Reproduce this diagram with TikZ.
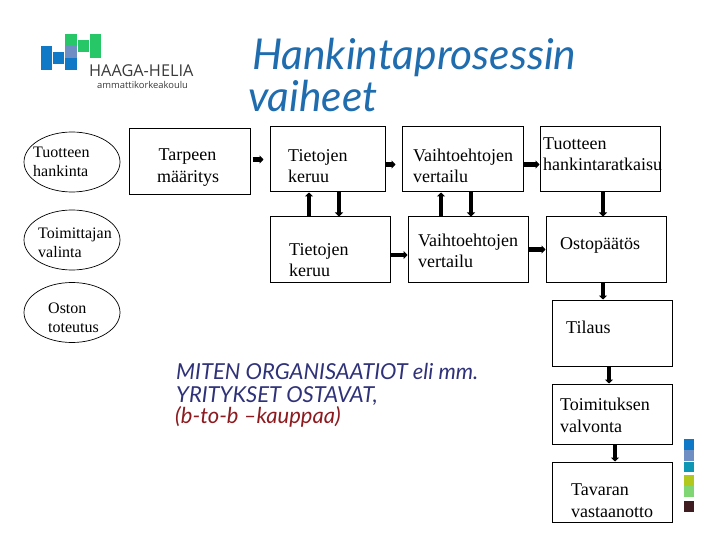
\documentclass[tikz,border=0pt]{standalone}
\usepackage{fontspec}
\setmainfont{Liberation Serif}
\newfontfamily\handfont{Lato}
\newfontfamily\logofont{Open Sans}
\usetikzlibrary{arrows.meta, shapes.geometric}
\definecolor{titleBlue}{HTML}{1F6CAE}
\definecolor{noteBlue}{HTML}{2F3278}
\definecolor{noteRed}{HTML}{8C1A1F}
\definecolor{logoBlue}{HTML}{0F79C8}
\definecolor{logoLilac}{HTML}{6F8FC4}
\definecolor{logoGreen}{HTML}{27C768}
\definecolor{logoText}{HTML}{3A3A3A}
\definecolor{barTeal}{HTML}{0E97B4}
\definecolor{barOlive}{HTML}{B3C81C}
\definecolor{barGreen}{HTML}{7FD673}
\definecolor{barDark}{HTML}{3E1C20}
\tikzset{
  stepbox/.style={draw=black, line width=1pt, fill=white, inner sep=0pt},
  stepoval/.style={draw=black, line width=0.7pt, fill=white, ellipse, inner sep=0pt,
    minimum width=96pt},
  boxtext/.style={anchor=west, align=left, inner sep=0pt, font=\fontsize{18}{21.5}\selectfont},
  ovaltext/.style={anchor=west, align=left, inner sep=0pt, font=\fontsize{16}{19}\selectfont},
  flow/.style={line width=4.5pt, -{Triangle[width=8pt,length=4pt]}},
  titletext/.style={anchor=base west, inner sep=0pt, text=titleBlue,
    font=\handfont\itshape\fontsize{42.5}{42.5}\selectfont},
  notetext/.style={anchor=base west, inner sep=0pt,
    font=\handfont\itshape\fontsize{22}{22}\selectfont},
}
\newcommand{\stepcell}[8]{%
  \node[stepbox, minimum width=#4pt, minimum height=#5pt] (#1) at (#2,#3) {};%
  \node[boxtext] (#1-t) at (#6,#7) {#8};%
}
\newcommand{\stepell}[6]{%
  \node[stepoval, minimum height=60pt] (#1) at (72,#2) {};%
  \node[ovaltext] (#1-t) at (#3,#4) {#5\\#6};%
}
\begin{document}
\begin{tikzpicture}[x=1pt, y=-1pt]
\useasboundingbox (0,0) rectangle (720,540);

% --- LOGO ---
\foreach \lx/\ly/\lcol in {
  62/78/logoBlue, 62/115/logoBlue, 98/96/logoBlue, 135/115/logoBlue,
  135/78/logoLilac,
  135/42/logoGreen, 173/60/logoGreen, 209/42/logoGreen, 209/78/logoGreen}{
  \fill[\lcol] (\lx/3+20, \ly/3+20) rectangle ++(11.7, 11.7);
}
\node[anchor=base west, inner sep=0pt, font=\logofont\fontsize{16.3}{16}\selectfont, text=logoText]
  (logoname) at (89,77) {HAAGA-HELIA};
\node[anchor=base west, inner sep=0pt, font=\logofont\fontsize{9.4}{10}\selectfont, text=logoText]
  (logosub) at (97,88.5) {ammattikorkeakoulu};

% --- TITLE ---
\node[titletext] (title1) at (252,70) {Hankintaprosessin};
\node[titletext] (title2) at (248,112) {vaiheet};

% --- OVALS ---
\stepell{hankinta}{162}{33}{162}{Tuotteen}{hankinta}
\stepell{valinta}{240}{38}{242.5}{Toimittajan}{valinta}
\stepell{toteutus}{312.5}{48}{318}{Oston}{toteutus}

% --- BOXES ---
\stepcell{tarve}{189.5}{162}{121}{66}{157}{167.5}{\hspace*{1.5pt}Tarpeen\\määritys}
\stepcell{tieto1}{327.5}{159.5}{115}{65}{288}{166}{Tietojen\\keruu}
\stepcell{tieto2}{330}{249.5}{120}{65}{289}{260}{Tietojen\\keruu}
\stepcell{vaihto1}{462.5}{159.5}{121}{65}{413}{166}{Vaihtoehtojen\\vertailu}
\stepcell{vaihto2}{468}{249.5}{120}{65}{418}{251}{Vaihtoehtojen\\vertailu}
\stepcell{ratkaisu}{600}{159.5}{120}{65}{543}{154}{Tuotteen\\hankintaratkaisu}
\stepcell{paatos}{606}{249.5}{120}{65}{560}{245}{Ostopäätös}
\stepcell{tilaus}{612}{333}{120}{66}{566}{327}{Tilaus}
\stepcell{valvonta}{612}{414}{120}{60}{560}{415.5}{Toimituksen\\valvonta}
\stepcell{vastaan}{612}{492}{120}{60}{571}{500.5}{Tavaran\\vastaanotto}

% --- ARROWS ---
\draw[flow, shorten <=2pt, shorten >=6pt] ([yshift=2.5pt]tarve.east) -- (tieto1.west);
\draw[flow, shorten >=6pt] ([yshift=-5pt]tieto1.east) -- ([yshift=-5pt]vaihto1.west);
\draw[flow] ([yshift=-5pt]vaihto1.east) -- ([yshift=-5pt]ratkaisu.west);
\draw[flow] ([yshift=-5.5pt]tieto2.east) -- ([yshift=-5.5pt]vaihto2.west);
\draw[flow] (vaihto2.east) -- (paatos.west);
\draw[flow] ([xshift=-21pt]tieto2.north) -- ([xshift=-18.5pt]tieto1.south);
\draw[flow] ([xshift=11.5pt]tieto1.south) -- ([xshift=9pt]tieto2.north);
\draw[flow] ([xshift=-27pt]vaihto2.north) -- ([xshift=-21.5pt]vaihto1.south);
\draw[flow] ([xshift=8.5pt]vaihto1.south) -- ([xshift=3pt]vaihto2.north);
\draw[flow] ([xshift=3pt]ratkaisu.south) -- ([xshift=-3pt]paatos.north);
\draw[flow] ([xshift=-3pt]paatos.south) -- ([xshift=-9pt]tilaus.north);
\draw[flow] ([xshift=-3pt]tilaus.south) -- ([xshift=-3pt]valvonta.north);
\draw[flow] ([xshift=3pt]valvonta.south) -- ([xshift=3pt]vastaan.north);

% --- NOTE ---
\node[notetext, text=noteBlue] (note1) at (176,379) {MITEN ORGANISAATIOT eli mm.};
\node[notetext, text=noteBlue] (note2) at (176,402) {YRITYKSET OSTAVAT,};
\node[notetext, text=noteRed] (note3) at (175,423) {(b-to-b –kauppaa)};

% --- SIDE BAR ---
\foreach \by/\bh/\bcol in {439/11/logoBlue, 450/11/logoLilac, 462/10/barTeal,
  475/11/barOlive, 486/11/barGreen, 501/11/barDark}{
  \fill[\bcol] (684,\by) rectangle ++(10,\bh);
}

\end{tikzpicture}
\end{document}
